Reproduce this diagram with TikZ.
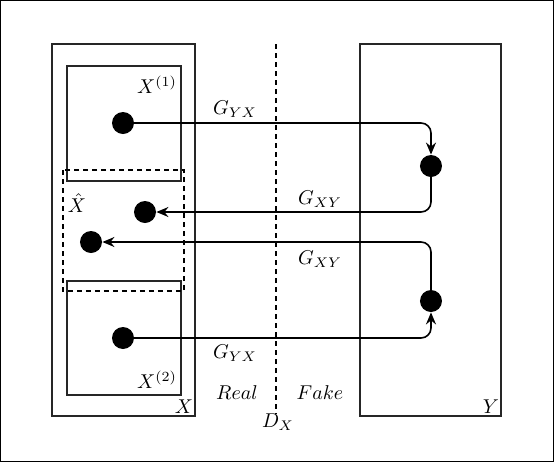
\documentclass[tikz,border=0pt]{standalone}
\usetikzlibrary{arrows.meta}
\begin{document}
\begin{tikzpicture}[x=0.5pt,y=-0.5pt,
  box/.style={draw=black!85, line width=0.75pt},
  dashbox/.style={draw=black, line width=0.65pt, dash pattern=on 2.5pt off 2pt},
  dot/.style={circle, fill=black, minimum size=11pt, inner sep=0pt},
  conn/.style={line width=0.8pt, rounded corners=5pt, -{Stealth[length=6pt,width=5pt]}},
  lbl/.style={inner sep=0pt}]
\useasboundingbox (0,0) rectangle (554,462);
\draw[line width=0.5pt] (0.5,0.5) rectangle (553.5,461.5);
% boxes
\draw[box] (52,44) rectangle (195,416);
\draw[box] (360,44) rectangle (501,416);
\draw[box] (67,66) rectangle (181,181);
\draw[box] (67,281) rectangle (181,395);
\draw[dashbox] (63,170) rectangle (184,291);
% discriminator line
\coordinate (dtop) at (276,44);
\node[lbl] (dx) at (278,422) {$D_X$};
\draw[dashbox] (dtop) -- (dx.north -| dtop);
% labels
\node[lbl] (x1) at (157,85) {$X^{(1)}$};
\node[lbl] (x2) at (157,380) {$X^{(2)}$};
\node[lbl] (xh) at (77,203) {$\hat{X}$};
\node[lbl] (xl) at (184,407) {$X$};
\node[lbl] (yl) at (491,407) {$Y$};
\node[lbl] (real) at (237,393) {$Real$};
\node[lbl] (fake) at (320,393) {$Fake$};
\node[lbl] (g1) at (235,109) {$G_{YX}$};
\node[lbl] (g2) at (320,199) {$G_{XY}$};
\node[lbl] (g3) at (320,259) {$G_{XY}$};
\node[lbl] (g4) at (235,353) {$G_{YX}$};
% dots
\node[dot] (a) at (123,123) {};
\node[dot] (b) at (431,166) {};
\node[dot] (c) at (145,212) {};
\node[dot] (d) at (91,242) {};
\node[dot] (e) at (431,301) {};
\node[dot] (f) at (123,338) {};
% connectors
\draw[conn] (a.center) -| (b.north);
\draw[conn] (b.center) |- (c.east);
\draw[conn] (e.center) |- (d.east);
\draw[conn] (f.center) -| (e.south);
\end{tikzpicture}
\end{document}
